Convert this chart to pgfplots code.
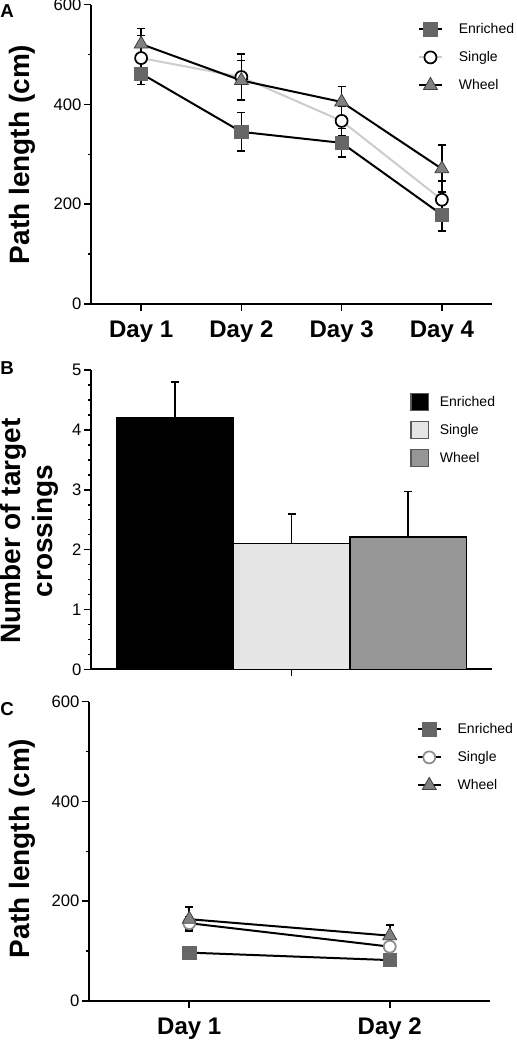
\documentclass[border=0pt]{standalone}
\usepackage{fontspec}
\setmainfont{Liberation Sans}
\usepackage{pgfplots}
\pgfplotsset{compat=1.18}
\definecolor{enr}{gray}{0.40}
\definecolor{whl}{gray}{0.50}
\definecolor{sgl}{gray}{0.80}
\definecolor{barS}{gray}{0.90}
\definecolor{barW}{gray}{0.59}
\pgfplotsset{
 panel/.style={
  scale only axis, width=300.75pt, height=224.5pt,
  axis x line=bottom, axis y line=left,
  axis line style={line width=1.5pt,-},
  tick align=outside,
  major tick length=5pt, minor tick length=2.5pt,
  tick style={black, line width=1.2pt},
  /pgf/number format/assume math mode=true,
  yticklabel style={font=\fontsize{12.5}{14}\selectfont, inner xsep=2pt},
  xticklabel style={font=\bfseries\fontsize{18}{20}\selectfont, yshift=-4pt},
  every axis y label/.style={rotate=90, anchor=center, font=\bfseries\fontsize{21}{24}\selectfont, align=center},
  clip=false,
  legend style={draw=none, fill=none, font=\fontsize{10.5}{12}\selectfont, row sep=9pt, inner sep=0pt, anchor=north west,
    nodes={inner sep=1pt, text height=8pt, text depth=2pt},
    /tikz/every odd column/.append style={column sep=11pt}},
  legend cell align=left,
 },
 eb/.style={error bars/.cd, y dir=both, y explicit,
   error bar style={line width=1.3pt, black},
   error mark options={rotate=90, mark size=3pt, line width=1.3pt, black}},
 ebp/.style={error bars/.cd, y dir=plus, y explicit,
   error bar style={line width=1.3pt, black},
   error mark options={rotate=90, mark size=3pt, line width=1.3pt, black}},
}
\begin{document}
\begin{tikzpicture}
\useasboundingbox (0pt,0pt) rectangle (387.75pt,-782.25pt);
% Panel letters
\node[anchor=north west, inner sep=0pt, font=\bfseries\fontsize{14}{14}\selectfont] at (0pt,-3.5pt) {A};
\node[anchor=north west, inner sep=0pt, font=\bfseries\fontsize{14}{14}\selectfont] at (0pt,-271pt) {B};
\node[anchor=north west, inner sep=0pt, font=\bfseries\fontsize{14}{14}\selectfont] at (0pt,-527pt) {C};

% Panel A
\begin{axis}[panel, at={(68.25pt,-228pt)}, anchor=south west,
  xmin=0.5, xmax=4.5, ymin=0, ymax=600,
  xtick={1,2,3,4}, xticklabels={Day 1,Day 2,Day 3,Day 4},
  ytick={0,200,400,600}, minor ytick={100,300,500},
  ylabel={Path length (cm)},
  every axis y label/.append style={at={(axis description cs:-0.172,0.5)}},
  legend style={at={(axis description cs:0.815,0.945)}}]
\addplot[line width=1.5pt, black, mark=square*, mark size=5pt,
  mark options={fill=enr, draw=enr, line width=0.5pt}, eb]
  table[x=x,y=y,y error=e] {
x y e
1 462 22
2 345 39
3 323 29
4 179 32
};
\addlegendentry{Enriched}
\addplot[line width=1.5pt, sgl, mark=*, mark size=4.5pt,
  mark options={fill=white, draw=black, line width=1.3pt}, eb]
  table[x=x,y=y,y error=e] {
x y e
1 493 45
2 455 46
3 367 30
4 209 38
};
\addlegendentry{Single}
\addplot[line width=1.5pt, black, mark=triangle*, mark size=6pt,
  mark options={fill=whl, draw=black!75, line width=0.6pt}, eb]
  table[x=x,y=y,y error=e] {
x y e
1 521 31
2 448 40
3 405 31
4 271 47
};
\addlegendentry{Wheel}
\end{axis}

% Panel B
\begin{axis}[panel, at={(68.25pt,-502pt)}, anchor=south west,
  xmin=0.282, xmax=3.718, ymin=0, ymax=5,
  xtick={2}, xticklabels={},
  ytick={0,1,2,3,4,5}, minor tick num=3,
  ylabel={Number of target\\crossings},
  every axis y label/.append style={at={(axis description cs:-0.153,0.462)}},
  legend image code/.code={\draw[#1, line width=1pt, draw=black!65] (0pt,-6.5pt) rectangle (13pt,6.5pt);},
  legend style={at={(axis description cs:0.796,0.925)}, row sep=7pt,
    /tikz/every odd column/.append style={column sep=7pt}}]
\addplot[ybar, bar width=1, bar shift=0pt, fill=black, draw=black, line width=1.2pt, ebp]
  coordinates {(1,4.2) +- (0,0.6)};
\addlegendentry{Enriched}
\addplot[ybar, bar width=1, bar shift=0pt, fill=barS, draw=black, line width=1.2pt, ebp]
  coordinates {(2,2.1) +- (0,0.5)};
\addlegendentry{Single}
\addplot[ybar, bar width=1, bar shift=0pt, fill=barW, draw=black, line width=1.2pt, ebp]
  coordinates {(3,2.21) +- (0,0.76)};
\addlegendentry{Wheel}
\end{axis}

% Panel C
\begin{axis}[panel, at={(66.75pt,-750.75pt)}, anchor=south west,
  xmin=0.5, xmax=2.5, ymin=0, ymax=600,
  xtick={1,2}, xticklabels={Day 1,Day 2},
  ytick={0,200,400,600}, minor ytick={100,300,500},
  ylabel={Path length (cm)},
  every axis y label/.append style={at={(axis description cs:-0.167,0.51)}},
  legend style={at={(axis description cs:0.817,0.935)}}]
\addplot[line width=1.5pt, black, mark=square*, mark size=5pt,
  mark options={fill=enr, draw=enr, line width=0.5pt}, eb]
  table[x=x,y=y,y error=e] {
x y e
1 97 5
2 82 5
};
\addlegendentry{Enriched}
\addplot[line width=1.5pt, black, mark=*, mark size=4.5pt,
  mark options={fill=white, draw=black!45, line width=1.3pt}, eb]
  table[x=x,y=y,y error=e] {
x y e
1 156 12
2 109 10
};
\addlegendentry{Single}
\addplot[line width=1.5pt, black, mark=triangle*, mark size=6pt,
  mark options={fill=whl, draw=black!75, line width=0.6pt}, eb]
  table[x=x,y=y,y error=e] {
x y e
1 164 24
2 131 22
};
\addlegendentry{Wheel}
\end{axis}
\end{tikzpicture}
\end{document}
